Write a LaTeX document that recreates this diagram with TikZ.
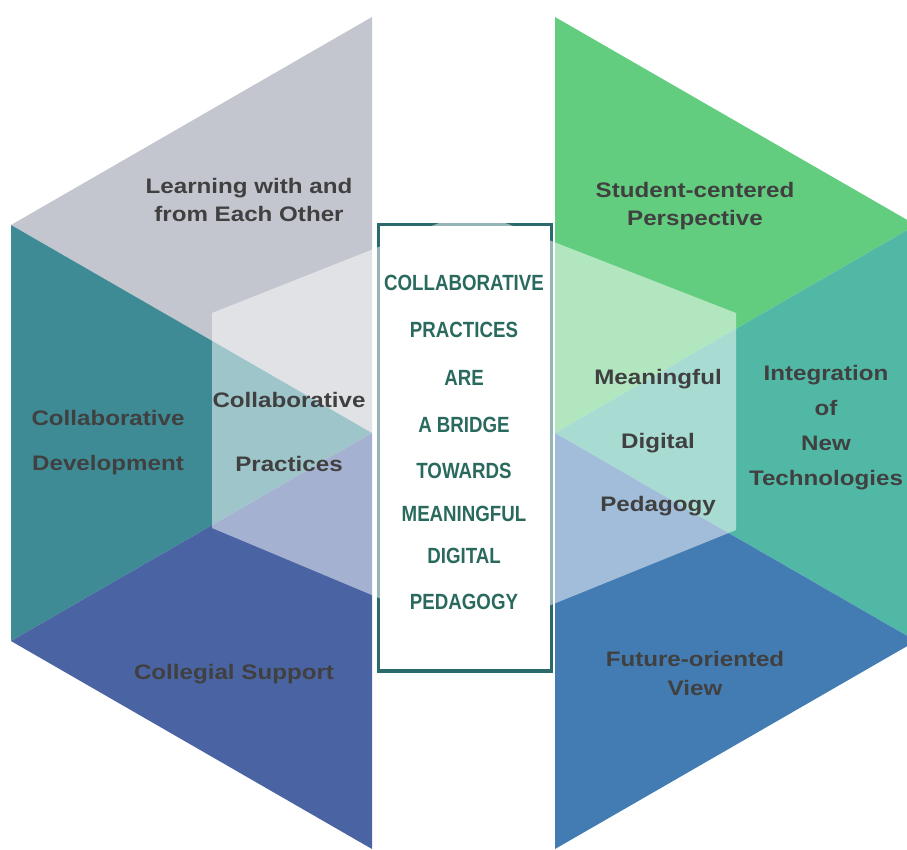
\documentclass[tikz,border=0pt]{standalone}
\usepackage{fontspec}
\setmainfont{Liberation Sans}
\newfontfamily\narrowfont[FakeStretch=0.85]{Liberation Sans}
\newfontfamily\widefont[FakeStretch=1.15]{Liberation Sans}
\definecolor{leftgray}{HTML}{C3C6CE}
\definecolor{leftteal}{HTML}{3E8B96}
\definecolor{leftblue}{HTML}{4A63A3}
\definecolor{rightgreen}{HTML}{63CD7F}
\definecolor{rightteal}{HTML}{52B8A6}
\definecolor{rightblue}{HTML}{437CB3}
\definecolor{labelgray}{HTML}{404040}
\definecolor{bridgegreen}{HTML}{2A6A5E}
\definecolor{framedark}{HTML}{2B6A6B}

\begin{document}
\begin{tikzpicture}[x=1pt,y=-1pt,
	lbl/.style={text=labelgray,font=\widefont\fontsize{21}{25}\selectfont\bfseries,align=center,inner sep=0pt},
	bridge/.style={text=bridgegreen,font=\narrowfont\fontsize{22}{26}\selectfont\bfseries,inner sep=0pt}]
	\useasboundingbox (0,0) rectangle (907,849);
	\begin{scope}
		\clip (0,0) rectangle (907,849);
		% left half of the hexagon
		\coordinate (lt) at (372,17);
		\coordinate (lu) at (11,225);
		\coordinate (ll) at (11,641);
		\coordinate (lb) at (372,849);
		\coordinate (lc) at (372,433);
		\fill[leftgray] (lt) -- (lu) -- (lc) -- cycle;
		\fill[leftteal] (lc) -- (lu) -- (ll) -- cycle;
		\fill[leftblue] (lc) -- (ll) -- (lb) -- cycle;
		% right half of the hexagon
		\coordinate (rt) at (555,17);
		\coordinate (ru) at (916,225);
		\coordinate (rl) at (916,641);
		\coordinate (rb) at (555,849);
		\coordinate (rc) at (555,433);
		\fill[rightgreen] (rt) -- (ru) -- (rc) -- cycle;
		\fill[rightteal] (rc) -- (ru) -- (rl) -- cycle;
		\fill[rightblue] (rc) -- (rl) -- (rb) -- cycle;
	\end{scope}
	% bridge box
	\node[draw=framedark,line width=3.5pt,minimum width=173pt,minimum height=446.5pt,inner sep=0pt] (frame) at (465,447.75) {};
	% inner light hexagon
	\fill[white,opacity=0.5] (212,313) -- (472,210) -- (736,313) -- (736,530) -- (472,637) -- (212,528) -- cycle;
	\foreach \txt/\ypos in {COLLABORATIVE/283,PRACTICES/330,ARE/378,A BRIDGE/425,TOWARDS/471,MEANINGFUL/514,DIGITAL/556,PEDAGOGY/602}
		\node[bridge] (line\ypos) at (464,\ypos) {\txt};
	% labels
	\node[lbl] (learning) at (249,200) {Learning with and\\[3pt]from Each Other};
	\node[lbl] (development) at (108,443) {Collaborative\\[20pt]Development};
	\node[lbl] (practices) at (289,432) {Collaborative\\[39pt]Practices};
	\node[lbl] (support) at (234,674) {Collegial Support};
	\node[lbl] (student) at (695,206) {Student-centered\\[3pt]Perspective};
	\node[lbl] (pedagogy) at (658,443) {Meaningful\\[39pt]Digital\\[38pt]Pedagogy};
	\node[lbl] (technologies) at (826,428) {Integration\\[10pt]of\\[10pt]New\\[10pt]Technologies};
	\node[lbl] (future) at (695,673) {Future-oriented\\[4pt]View};
\end{tikzpicture}
\end{document}
